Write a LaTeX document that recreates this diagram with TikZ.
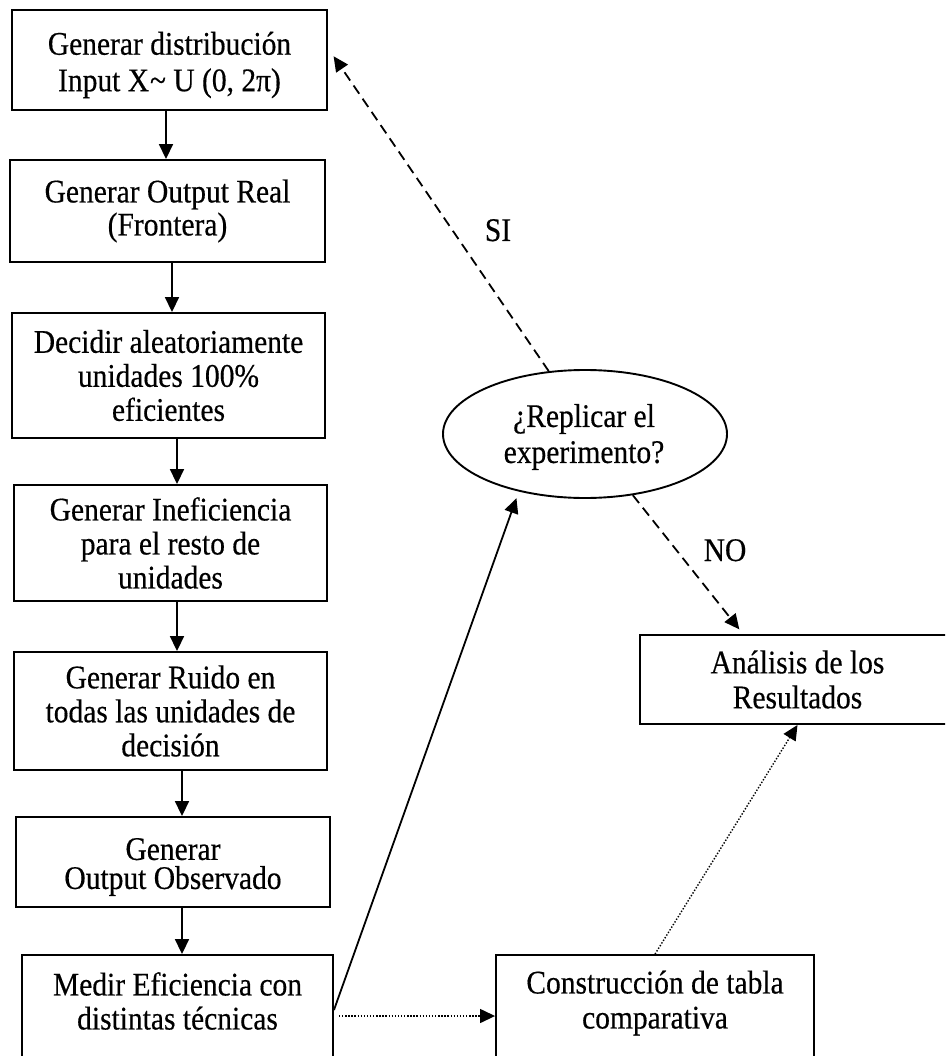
\documentclass[tikz,border=0pt]{standalone}
\usepackage{fontspec}
\setmainfont{Liberation Serif}[FakeStretch=0.894,FakeBold=0.4]
\usetikzlibrary{arrows.meta,shapes.geometric}
\tikzset{
  stepbox/.style={draw, rectangle, line width=1.9pt, inner sep=0pt, align=center,
    font=\fontsize{33}{34}\selectfont},
  textonly/.style={inner sep=0pt, align=center, font=\fontsize{33}{34}\selectfont},
  decision/.style={draw, ellipse, line width=1.9pt, inner sep=0pt, align=center,
    font=\fontsize{33}{36}\selectfont},
  flow/.style={line width=1.8pt, -{Triangle[length=15pt,width=14pt]}},
  dashflow/.style={flow, dash pattern=on 10pt off 6pt},
  dotflow/.style={line width=1.4pt, dash pattern=on 1.4pt off 1.7pt,
    -{Triangle[length=15pt,width=14pt]}},
  answer/.style={inner sep=0pt, anchor=base, font=\fontsize{33}{34}\selectfont},
}
\begin{document}
\begin{tikzpicture}[x=1pt,y=-1pt]
\useasboundingbox (0,0) rectangle (945,1056);
\fill[white] (0,0) rectangle (945,1056);
\clip (0,0) rectangle (945,1056);

% simulation steps
\node[stepbox, minimum width=315pt, minimum height=100pt] (b1) at (169.5,60) {};
\node[textonly, font=\fontsize{33}{36.5}\selectfont] (t1) at (169.5,65)
  {Generar distribución\\Input X\kern1pt\textasciitilde{} U (0, 2π)};
\node[stepbox, minimum width=315pt, minimum height=102pt,
      font=\fontsize{33}{33}\selectfont] (b2) at (167.5,211)
  {Generar Output Real\\(Frontera)};
\node[stepbox, minimum width=313pt, minimum height=125pt] (b3) at (168.5,375.5)
  {Decidir aleatoriamente\\unidades 100\%\\eficientes};
\node[stepbox, minimum width=313pt, minimum height=116pt] (b4) at (170.5,543)
  {Generar Ineficiencia\\para el resto de\\unidades};
\node[stepbox, minimum width=313pt, minimum height=118pt] (b5) at (170.5,711)
  {Generar Ruido en\\todas las unidades de\\decisión};
\node[stepbox, minimum width=314pt, minimum height=90pt] (b6) at (173,862) {};
\node[textonly, font=\fontsize{33}{29}\selectfont] (t6) at (173,867)
  {Generar\\Output Observado};
\node[stepbox, minimum width=311pt, minimum height=122pt] (b7) at (177.5,1016) {};
\node[textonly] (t7) at (177.5,1001) {Medir Eficiencia con\\distintas técnicas};

% results side
\node[stepbox, minimum width=318pt, minimum height=122pt] (cb) at (655,1016) {};
\node[textonly, font=\fontsize{33}{35}\selectfont] (tc) at (655,1003)
  {Construcción de tabla\\comparativa};
\node[stepbox, minimum width=315pt, minimum height=89pt,
      font=\fontsize{33}{35}\selectfont] (an) at (797.5,679.5)
  {Análisis de los\\Resultados};
\node[decision, minimum width=284pt, minimum height=128pt] (ell) at (585,434) {};
\node[textonly, font=\fontsize{33}{36}\selectfont] (te) at (584,437)
  {¿Replicar el\\experimento?};

% main flow
\coordinate (v1) at (166,0);
\coordinate (v2) at (172,0);
\coordinate (v3) at (177,0);
\coordinate (v5) at (182,0);
\draw[flow] (b1.south -| v1) -- (b2.north -| v1);
\draw[flow] (b2.south -| v2) -- (b3.north -| v2);
\draw[flow] (b3.south -| v3) -- (b4.north -| v3);
\draw[flow] (b4.south -| v3) -- (b5.north -| v3);
\draw[flow] (b5.south -| v5) -- (b6.north -| v5);
\draw[flow] (b6.south -| v5) -- (b7.north -| v5);

% decision loop
\draw[flow, shorten >=7pt] ([yshift=6pt]b7.east) -- (ell.221);
\draw[dashflow, shorten >=10pt] (ell.120) -- ([yshift=12pt]b1.east);
\node[answer] (si) at (498,241) {SI};
\draw[dashflow, shorten >=6pt] (ell.308) -- ([xshift=104pt]an.north west);
\node[answer] (no) at (725,561) {NO};

% comparison table
\draw[dotflow, shorten <=5pt] (b7.east) -- (cb.west);
\draw[dotflow] (cb.north) -- (an.south);
\end{tikzpicture}
\end{document}
